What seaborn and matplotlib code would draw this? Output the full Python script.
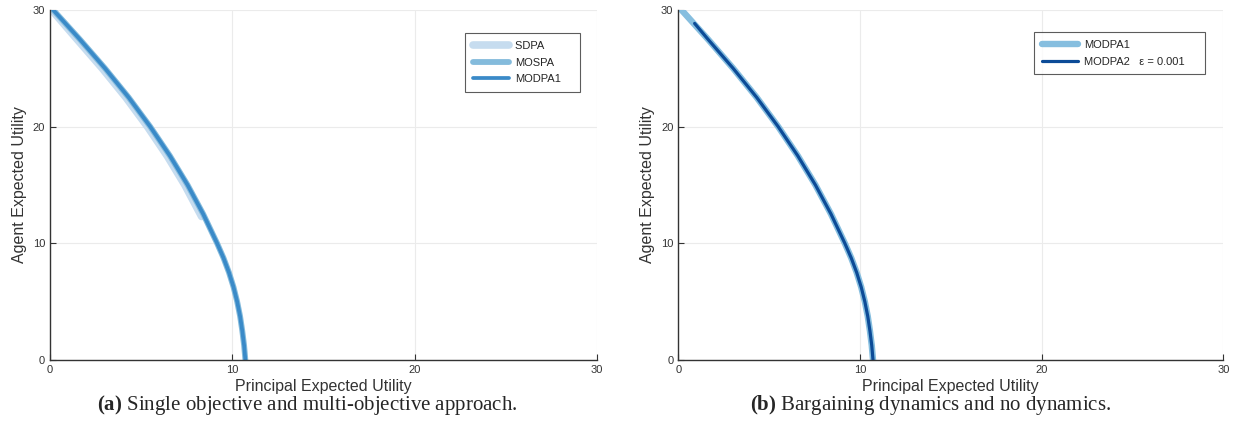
#!/usr/bin/env python3
import pandas as pd
import matplotlib.pyplot as plt
import seaborn as sns

# frontier (principal utility, agent utility)
front_x = [0.18, 1.63, 3.02, 4.32, 5.5, 6.58, 7.55, 8.41, 9.17, 9.52, 9.82,
           10.07, 10.27, 10.43, 10.55, 10.65, 10.72]
front_y = [30, 27.5, 25, 22.5, 20, 17.5, 15, 12.5, 10, 8.75, 7.5,
           6.25, 5, 3.75, 2.5, 1.25, 0]

sdpa_x = [0.1, 1.48, 2.87, 4.17, 5.35, 6.43, 7.4, 8.32]
sdpa_y = [30, 27.5, 25, 22.5, 20, 17.5, 15, 12.3]

modpa2_x = [0.9, 1.63, 3.02, 4.32, 5.5, 6.58, 7.55, 8.41, 9.17, 9.52, 9.82,
            10.07, 10.27, 10.43, 10.55, 10.65, 10.72]
modpa2_y = [28.85, 27.5, 25, 22.5, 20, 17.5, 15, 12.5, 10, 8.75, 7.5,
            6.25, 5, 3.75, 2.5, 1.25, 0]

ticks = [0, 10, 20, 30]

sns.set_style("white")
plt.rcParams['font.family'] = ['Liberation Sans', 'DejaVu Sans']
plt.rcParams['mathtext.fontset'] = 'custom'
plt.rcParams['mathtext.rm'] = 'Liberation Serif'
plt.rcParams['mathtext.bf'] = 'Liberation Serif:bold'


def frontier(ax, x, y, color, lw, label):
    df = pd.DataFrame({'x': x, 'y': y})
    sns.lineplot(x='x', y='y', data=df, ax=ax, color=color, linewidth=lw,
                 label=label, sort=False, estimator=None)


def style_axes(ax):
    ax.set_xlim(0, 30)
    ax.set_ylim(0, 30)
    ax.set_xticks(ticks)
    ax.set_yticks(ticks)
    ax.grid(True, color='#ebebeb', linewidth=0.8)
    ax.tick_params(direction='in', length=4, labelsize=8, colors='#333333',
                   left=True, bottom=True)
    for s in ['top', 'right']:
        ax.spines[s].set_visible(False)
    for s in ['left', 'bottom']:
        ax.spines[s].set_color('#333333')
        ax.spines[s].set_linewidth(1.0)
    ax.set_xlabel('Principal Expected Utility', fontsize=11.5, color='#333333',
                  labelpad=3)
    ax.set_ylabel('Agent Expected Utility', fontsize=11.5, color='#333333')


def add_legend(ax, anchor):
    leg = ax.legend(loc='upper right', bbox_to_anchor=anchor, borderaxespad=0,
                    fontsize=8, handlelength=3.25, handletextpad=0.6,
                    fancybox=False, edgecolor='#333333', borderpad=0.7,
                    labelspacing=0.6)
    leg.get_frame().set_linewidth(0.8)


fig = plt.figure(figsize=(12.4, 4.47), dpi=100)
ax1 = fig.add_axes([0.0403, 0.1946, 0.441, 0.783])
ax2 = fig.add_axes([0.547, 0.1946, 0.4395, 0.783])

frontier(ax1, sdpa_x, sdpa_y, '#c6dcef', 5.5, 'SDPA         ')
frontier(ax1, front_x, front_y, '#84bbdc', 4.2, 'MOSPA')
frontier(ax1, front_x, front_y, '#3a8ac8', 2.7, 'MODPA1')
style_axes(ax1)
add_legend(ax1, (0.969, 0.934))

frontier(ax2, front_x, front_y, '#86bedf', 4.6, 'MODPA1')
frontier(ax2, modpa2_x, modpa2_y, '#0c4b97', 2.3,
         'MODPA2   \u03b5 = 0.001    ')
style_axes(ax2)
add_legend(ax2, (0.967, 0.937))

serif = ['Liberation Serif', 'DejaVu Serif']
fig.text(0.2476, 0.082, r'$\mathbf{(a)}$ Single objective and multi-objective approach.',
         fontsize=15, family=serif, ha='center', va='baseline')
fig.text(0.7508, 0.082, r'$\mathbf{(b)}$ Bargaining dynamics and no dynamics.',
         fontsize=15, family=serif, ha='center', va='baseline')

plt.savefig('out.png', dpi=100)
